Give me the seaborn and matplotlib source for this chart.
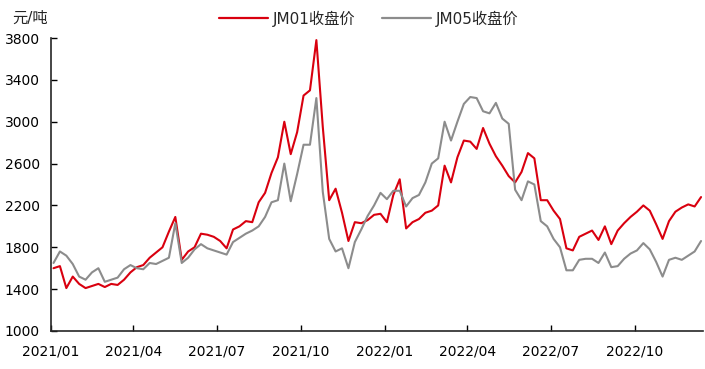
import pandas as pd
import matplotlib
matplotlib.use("Agg")
import matplotlib.pyplot as plt
import matplotlib.dates as mdates
import seaborn as sns

# weekly closing prices (yuan/ton)
dates = pd.date_range("2021-01-04", periods=102, freq="7D")

jm01 = [
    1600, 1620, 1410, 1520, 1450, 1410, 1430, 1450, 1420, 1450,
    1440, 1490, 1560, 1610, 1630, 1700, 1750, 1800, 1950, 2090,
    1680, 1760, 1800, 1930, 1920, 1900, 1860, 1790, 1970, 2000,
    2050, 2040, 2230, 2320, 2510, 2660, 3000, 2690, 2900, 3250,
    3300, 3780, 2950, 2250, 2360, 2130, 1860, 2040, 2030, 2060,
    2110, 2120, 2040, 2300, 2450, 1980, 2040, 2070, 2130, 2150,
    2200, 2580, 2420, 2660, 2820, 2810, 2740, 2940, 2790, 2670,
    2580, 2480, 2420, 2520, 2700, 2650, 2250, 2250, 2150, 2070,
    1790, 1770, 1900, 1930, 1960, 1870, 2000, 1830, 1960, 2030,
    2090, 2140, 2200, 2150, 2020, 1880, 2050, 2140, 2180, 2210,
    2190, 2280,
]

jm05 = [
    1650, 1760, 1720, 1640, 1520, 1490, 1560, 1600, 1470, 1490,
    1510, 1590, 1630, 1600, 1590, 1650, 1640, 1670, 1700, 2030,
    1650, 1700, 1780, 1830, 1790, 1770, 1750, 1730, 1850, 1890,
    1930, 1960, 2000, 2090, 2230, 2250, 2600, 2240, 2500, 2780,
    2780, 3226, 2330, 1880, 1760, 1790, 1600, 1850, 1970, 2100,
    2200, 2320, 2260, 2340, 2340, 2190, 2270, 2300, 2420, 2600,
    2650, 3000, 2820, 3000, 3170, 3236, 3226, 3100, 3080, 3180,
    3030, 2980, 2350, 2250, 2430, 2400, 2050, 2000, 1880, 1800,
    1580, 1580, 1680, 1690, 1690, 1650, 1750, 1610, 1620, 1690,
    1740, 1770, 1840, 1780, 1660, 1520, 1680, 1700, 1680, 1720,
    1760, 1860,
]

series_names = ["JM01收盘价", "JM05收盘价"]
colors = {series_names[0]: "#d9000f", series_names[1]: "#8c8c8c"}

df = pd.concat([
    pd.DataFrame({"date": dates, "price": jm01, "series": series_names[0]}),
    pd.DataFrame({"date": dates, "price": jm05, "series": series_names[1]}),
])

sns.set_style("ticks")
plt.rcParams["font.family"] = ["DejaVu Sans", "Noto Sans CJK SC"]

fig = plt.figure(figsize=(7.05, 3.69), dpi=100)
ax = fig.add_axes([0.072, 0.103, 0.925, 0.794])

sns.lineplot(data=df, x="date", y="price", hue="series", palette=colors,
             linewidth=1.5, ax=ax, legend=False)

ax.set_ylim(1000, 3800)
ax.set_yticks(range(1000, 3801, 400))
ax.set_xlim(pd.Timestamp("2021-01-01"), pd.Timestamp("2022-12-14"))
ax.xaxis.set_major_locator(mdates.MonthLocator(bymonth=[1, 4, 7, 10]))
ax.xaxis.set_major_formatter(mdates.DateFormatter("%Y/%m"))
ax.set_xlabel("")
ax.set_ylabel("")
ax.tick_params(axis="both", direction="in", length=4, width=1,
               labelsize=10, colors="black")
ax.tick_params(axis="x", pad=10)
ax.tick_params(axis="y", pad=8)
for s in ["top", "right"]:
    ax.spines[s].set_visible(False)
for s in ["left", "bottom"]:
    ax.spines[s].set_linewidth(1.2)

fig.text(0.017, 0.95, "元/吨", fontsize=11, ha="left", va="center")

handles = [plt.Line2D([], [], color=colors[n], linewidth=1.6) for n in series_names]
fig.legend(handles, series_names, loc="center", bbox_to_anchor=(0.523, 0.95),
           ncol=2, frameon=False, fontsize=11, handlelength=3.2,
           columnspacing=1.8, handletextpad=0.3)

fig.savefig("out.png", dpi=100)
